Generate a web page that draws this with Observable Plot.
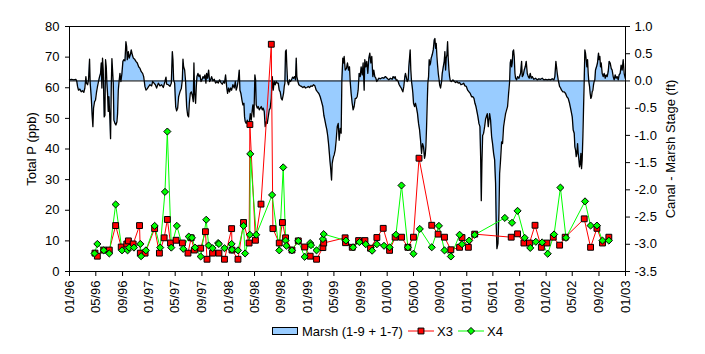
<!DOCTYPE html>
<html><head><meta charset="utf-8">
<script src="https://cdn.jsdelivr.net/npm/d3@7"></script>
<script src="https://cdn.jsdelivr.net/npm/@observablehq/plot@0.6"></script>
<style>
body{margin:0;background:#fff;font-family:"Liberation Sans",Arial,sans-serif;}
#wrap{position:relative;width:705px;height:354px;}
#legend{position:absolute;left:0;top:318px;}
</style></head>
<body><div id="wrap"><div id="chart"></div><svg id="legend" width="705" height="36"></svg></div>
<script>
// ---------- data (decimal year, value) ----------
const xTickLabels = ["01/96","05/96","09/96","01/97","05/97","09/97","01/98","05/98","09/98","01/99","05/99","09/99","01/00","05/00","09/00","01/01","05/01","09/01","01/02","05/02","09/02","01/03"];
const yTicks = [0,10,20,30,40,50,60,70,80];
const stageTicks = [1.0,0.5,0.0,-0.5,-1.0,-1.5,-2.0,-2.5,-3.0,-3.5];
const seriesNames = ["Marsh (1-9 + 1-7)","X3","X4"];

// Canal - Marsh stage (ft)
const stage = [
[1996.000,0.02],[1996.025,0.03],[1996.055,0.02],[1996.080,0.03],[1996.092,-0.01],[1996.101,-0.10],[1996.113,-0.17],[1996.130,-0.15],[1996.147,-0.20],[1996.164,-0.18],[1996.180,-0.21],[1996.193,-0.13],[1996.206,0.08],[1996.214,-0.04],[1996.227,-0.07],[1996.239,0.02],[1996.252,0.40],[1996.260,-0.04],[1996.273,-0.29],[1996.285,-0.64],[1996.294,-0.84],[1996.302,-0.50],[1996.315,-0.38],[1996.327,-0.35],[1996.340,-0.20],[1996.352,-0.10],[1996.365,-0.01],[1996.378,0.08],[1996.390,0.14],[1996.399,0.33],[1996.407,-0.13],[1996.415,0.42],[1996.424,0.20],[1996.436,-0.66],[1996.445,-0.63],[1996.453,0.39],[1996.462,0.26],[1996.470,-0.04],[1996.478,-0.23],[1996.487,-0.56],[1996.495,-0.29],[1996.508,-0.72],[1996.516,-1.06],[1996.525,-0.10],[1996.533,0.41],[1996.541,0.20],[1996.550,-0.04],[1996.558,-0.72],[1996.571,-0.78],[1996.583,-0.81],[1996.596,-0.75],[1996.604,-0.60],[1996.613,-0.17],[1996.621,-0.04],[1996.634,0.14],[1996.646,-0.01],[1996.659,0.14],[1996.671,0.36],[1996.684,0.39],[1996.697,0.37],[1996.709,0.72],[1996.718,0.63],[1996.726,0.39],[1996.739,0.54],[1996.751,0.42],[1996.764,0.48],[1996.776,0.57],[1996.789,0.48],[1996.802,0.42],[1996.818,0.40],[1996.835,0.36],[1996.852,0.33],[1996.869,0.26],[1996.886,0.23],[1996.902,0.17],[1996.919,0.14],[1996.932,0.08],[1996.940,-0.01],[1996.948,-0.10],[1996.961,-0.17],[1996.978,-0.14],[1996.995,-0.10],[1997.011,-0.07],[1997.032,-0.09],[1997.045,-0.01],[1997.062,-0.04],[1997.079,-0.07],[1997.095,-0.13],[1997.116,-0.04],[1997.137,-0.09],[1997.158,-0.07],[1997.179,-0.12],[1997.200,-0.01],[1997.213,0.07],[1997.221,-0.06],[1997.242,-0.07],[1997.263,-0.10],[1997.280,-0.04],[1997.293,0.54],[1997.301,0.39],[1997.309,0.02],[1997.322,-0.04],[1997.335,-0.47],[1997.347,-0.55],[1997.360,-0.50],[1997.372,-0.29],[1997.389,-0.20],[1997.406,-0.14],[1997.419,0.02],[1997.427,0.40],[1997.435,0.26],[1997.448,0.20],[1997.460,-0.01],[1997.473,-0.47],[1997.486,-0.63],[1997.498,-0.66],[1997.507,-0.41],[1997.519,-0.23],[1997.532,-0.20],[1997.544,-0.26],[1997.557,-0.38],[1997.565,0.33],[1997.574,-0.23],[1997.586,-0.41],[1997.595,-0.10],[1997.603,0.08],[1997.616,0.14],[1997.628,0.08],[1997.641,0.11],[1997.654,-0.01],[1997.666,0.02],[1997.679,0.08],[1997.691,0.05],[1997.704,0.11],[1997.716,-0.04],[1997.725,0.14],[1997.737,0.05],[1997.750,0.20],[1997.763,-0.01],[1997.775,0.02],[1997.788,0.08],
[1997.805,0.00],[1997.821,0.03],[1997.838,-0.04],[1997.855,-0.01],[1997.872,-0.04],[1997.888,0.02],[1997.905,-0.03],[1997.922,-0.06],[1997.939,-0.01],[1997.951,-0.04],[1997.964,0.11],[1997.977,-0.10],[1997.989,-0.23],[1998.002,-0.13],[1998.014,-0.20],[1998.027,-0.13],[1998.040,-0.17],[1998.056,-0.07],[1998.073,-0.13],[1998.086,-0.01],[1998.098,-0.17],[1998.111,-0.10],[1998.124,0.02],[1998.136,0.20],[1998.145,-0.17],[1998.157,-0.23],[1998.170,-0.35],[1998.182,-0.44],[1998.195,-0.41],[1998.203,-0.66],[1998.212,-0.75],[1998.224,-0.78],[1998.237,-0.72],[1998.249,-0.81],[1998.262,-0.78],[1998.275,-0.60],[1998.287,-0.72],[1998.300,-0.53],[1998.308,-0.44],[1998.321,-0.66],[1998.333,0.11],[1998.342,0.02],[1998.350,-0.44],[1998.363,-0.50],[1998.375,-0.47],[1998.388,-0.53],[1998.401,-0.50],[1998.413,-0.47],[1998.426,-0.53],[1998.438,-0.50],[1998.451,-0.56],[1998.463,-0.84],[1998.476,-0.75],[1998.489,-0.78],[1998.501,-0.66],[1998.514,-0.53],[1998.526,-0.50],[1998.539,-0.32],[1998.552,0.08],[1998.564,-0.17],[1998.577,-0.01],[1998.589,-0.07],[1998.602,-0.01],[1998.615,-0.04],[1998.627,-0.04],[1998.640,-0.17],[1998.652,-0.20],[1998.665,-0.32],[1998.677,-0.35],[1998.686,-0.29],[1998.694,-0.23],[1998.703,-0.10],[1998.711,-0.04],[1998.719,0.54],[1998.728,0.57],[1998.736,0.26],[1998.745,-0.01],[1998.757,-0.07],[1998.770,0.02],[1998.782,-0.01],[1998.795,0.02],[1998.808,0.07],[1998.820,0.05],[1998.833,0.08],[1998.845,0.02],[1998.854,0.42],[1998.862,0.08],[1998.875,-0.01],[1998.887,-0.07],[1998.904,-0.09],[1998.921,-0.10],[1998.938,-0.12],[1998.954,-0.10],[1998.971,-0.13],[1998.988,-0.12],[1999.005,-0.10],[1999.022,-0.12],[1999.038,-0.09],[1999.055,-0.10],[1999.072,-0.07],[1999.089,-0.09],[1999.106,-0.17],[1999.122,-0.20],[1999.139,-0.23],[1999.156,-0.29],[1999.173,-0.38],[1999.189,-0.47],[1999.202,-0.63],[1999.215,-0.72],[1999.227,-0.81],[1999.240,-0.90],[1999.252,-1.02],[1999.265,-1.21],[1999.278,-1.45],[1999.290,-1.64],[1999.299,-1.82],[1999.307,-1.52],[1999.315,-1.45],[1999.324,-1.39],[1999.332,-1.36],[1999.345,-1.27],[1999.357,-1.09],[1999.370,-0.84],[1999.383,-0.78],[1999.395,-1.09],[1999.408,-0.87],[1999.420,-0.96],[1999.429,0.02],[1999.441,0.42],[1999.450,0.33],[1999.458,0.45],[1999.471,0.20],
[1999.487,0.23],[1999.500,0.33],[1999.513,0.20],[1999.525,0.26],[1999.534,-0.01],[1999.546,-0.23],[1999.559,-0.41],[1999.571,-0.53],[1999.584,-0.47],[1999.597,-0.32],[1999.609,-0.32],[1999.622,-0.29],[1999.634,-0.17],[1999.647,0.14],[1999.660,0.08],[1999.672,0.26],[1999.685,0.11],[1999.697,0.33],[1999.710,-0.17],[1999.718,0.39],[1999.731,0.26],[1999.743,0.36],[1999.756,0.14],[1999.769,0.42],[1999.781,0.51],[1999.794,0.33],[1999.806,0.45],[1999.819,0.08],[1999.831,0.20],[1999.844,0.08],[1999.857,0.05],[1999.869,-0.01],[1999.882,0.02],[1999.894,0.05],[1999.915,0.04],[1999.936,0.06],[1999.957,0.05],[1999.978,0.08],[1999.999,0.05],[2000.020,0.02],[2000.041,0.05],[2000.062,0.03],[2000.075,0.08],[2000.088,0.05],[2000.100,0.08],[2000.113,0.01],[2000.125,0.02],[2000.138,-0.01],[2000.151,-0.07],[2000.163,-0.10],[2000.176,-0.13],[2000.188,-0.17],[2000.197,-0.20],[2000.209,-0.10],[2000.222,0.08],[2000.230,0.14],[2000.239,0.08],[2000.251,-0.01],[2000.264,0.02],[2000.272,0.26],[2000.281,0.42],[2000.289,0.57],[2000.297,0.20],[2000.306,-0.01],[2000.314,-0.10],[2000.323,-0.23],[2000.331,-0.41],[2000.344,-0.47],[2000.356,-0.41],[2000.369,-0.50],[2000.381,-0.60],[2000.394,-0.78],[2000.407,-0.90],[2000.419,-1.09],[2000.432,-1.33],[2000.444,-1.15],[2000.457,-1.21],[2000.469,-1.42],[2000.478,-1.36],[2000.486,-1.21],[2000.495,-0.84],[2000.503,-0.41],[2000.511,-0.04],[2000.520,0.08],[2000.528,0.39],[2000.537,0.29],[2000.545,0.33],[2000.553,0.42],[2000.566,0.48],[2000.579,0.57],[2000.591,0.75],[2000.600,0.78],[2000.608,0.60],[2000.616,0.69],[2000.625,0.45],[2000.633,0.29],[2000.642,0.14],[2000.650,0.05],[2000.659,-0.07],[2000.671,-0.13],[2000.684,-0.01],[2000.692,0.14],[2000.705,0.26],[2000.717,0.36],[2000.725,0.54],[2000.734,0.20],[2000.742,0.42],[2000.751,0.48],[2000.759,0.72],[2000.767,0.42],[2000.776,0.20],[2000.784,0.08],[2000.793,0.00],[2000.809,-0.01],[2000.826,0.02],[2000.843,-0.01],[2000.860,-0.03],[2000.876,-0.01],[2000.893,-0.04],[2000.910,-0.03],[2000.927,-0.07],[2000.944,-0.06],[2000.960,-0.04],[2000.977,-0.09],[2000.994,-0.10],[2001.011,-0.17],[2001.028,-0.20],[2001.044,-0.23],[2001.061,-0.29],[2001.078,-0.29],[2001.091,-0.32],[2001.103,-0.41],[2001.116,-0.47],[2001.128,-0.56],[2001.141,-0.66],[2001.153,-0.78],[2001.166,-0.84],[2001.175,-1.40],[2001.183,-2.20],[2001.191,-1.50],[2001.200,-1.00],[2001.212,-0.96],[2001.225,-0.84],[2001.237,-0.70],
[2001.258,-0.60],[2001.271,-0.84],[2001.288,-0.60],[2001.300,-0.72],[2001.313,-1.02],[2001.325,-1.15],[2001.338,-1.33],[2001.351,-1.45],[2001.363,-1.88],[2001.372,-2.68],[2001.380,-3.08],[2001.393,-2.99],[2001.405,-2.44],[2001.414,-1.70],[2001.426,-1.45],[2001.439,-1.12],[2001.451,-1.15],[2001.464,-0.84],[2001.476,-0.72],[2001.489,-0.60],[2001.502,-0.53],[2001.514,-0.47],[2001.527,-0.23],[2001.540,-0.01],[2001.548,0.33],[2001.556,0.39],[2001.565,0.26],[2001.573,0.33],[2001.581,0.54],[2001.590,0.57],[2001.598,0.45],[2001.607,0.14],[2001.615,0.05],[2001.628,0.02],[2001.640,0.08],[2001.657,0.05],[2001.678,0.14],[2001.691,0.36],[2001.699,0.08],[2001.712,0.11],[2001.724,0.20],[2001.737,0.26],[2001.749,0.36],[2001.762,0.14],[2001.775,0.08],[2001.787,0.05],[2001.800,0.14],[2001.812,0.05],[2001.825,0.08],[2001.846,0.03],[2001.867,0.05],[2001.888,0.02],[2001.909,0.04],[2001.930,0.03],[2001.951,0.05],[2001.972,0.02],[2001.993,0.03],[2002.014,0.02],[2002.035,0.03],[2002.056,0.02],[2002.077,0.04],[2002.098,0.02],[2002.110,0.08],[2002.123,0.36],[2002.131,0.26],[2002.140,0.14],[2002.152,0.02],[2002.161,-0.04],[2002.169,-0.10],[2002.182,-0.13],[2002.194,-0.17],[2002.211,-0.20],[2002.228,-0.20],[2002.245,-0.23],[2002.261,-0.29],[2002.278,-0.32],[2002.295,-0.41],[2002.312,-0.53],[2002.329,-0.66],[2002.341,-0.90],[2002.354,-0.96],[2002.362,-1.21],[2002.371,-1.27],[2002.379,-1.39],[2002.387,-1.33],[2002.396,-1.15],[2002.404,-1.33],[2002.413,-1.45],[2002.421,-1.58],[2002.429,-1.52],[2002.438,-1.33],[2002.446,-1.61],[2002.454,-1.45],[2002.463,-1.02],[2002.471,-0.53],[2002.480,0.02],[2002.488,0.57],[2002.496,0.51],[2002.505,0.39],[2002.513,0.26],[2002.522,0.39],[2002.530,0.14],[2002.538,-0.01],[2002.547,-0.10],[2002.555,-0.23],[2002.563,-0.32],[2002.572,-0.29],[2002.580,-0.20],[2002.589,-0.17],[2002.597,-0.07],[2002.605,-0.01],[2002.614,0.02],[2002.622,0.20],[2002.635,0.26],[2002.647,0.33],[2002.660,0.51],[2002.668,0.39],[2002.677,0.45],[2002.685,0.26],[2002.694,0.33],[2002.706,0.14],[2002.719,0.08],[2002.731,0.14],[2002.744,0.05],[2002.756,0.11],[2002.769,0.08],[2002.782,0.17],[2002.794,0.36],[2002.807,0.33],[2002.820,0.23],[2002.832,0.20],[2002.845,0.08],[2002.857,0.02],[2002.870,0.11],[2002.882,0.05],[2002.895,0.08],[2002.908,0.02],[2002.920,0.11],[2002.933,0.14],[2002.945,0.29],[2002.958,0.20],[2002.971,0.39],[2002.983,0.14],[2002.996,0.05]
];

// Total P (ppb) at X3
const x3 = [
[1996.32,6],[1996.35,5],[1996.43,7],[1996.50,7],[1996.58,15],[1996.65,8],[1996.72,9],[1996.74,10],[1996.80,9],[1996.88,15],[1996.89,6],[1996.95,6],[1997.07,14],[1997.13,6],[1997.19,11],[1997.23,17],[1997.27,9.3],[1997.34,10.2],[1997.42,9.3],[1997.49,6],[1997.53,11],[1997.57,7],[1997.65,7.6],[1997.71,13],[1997.73,4],[1997.80,6],[1997.88,6],[1997.95,4],[1998.04,14],[1998.045,7],[1998.12,4],[1998.19,16],[1998.26,9.3],[1998.27,48],[1998.34,10.2],[1998.41,22],[1998.54,74.2],[1998.56,14],[1998.64,9.3],[1998.68,16],[1998.72,11],[1998.80,7],[1998.88,10],[1998.96,8],[1999.03,5],[1999.11,4],[1999.19,7.8],[1999.20,9.3],[1999.47,11],[1999.475,9.4],[1999.56,7.9],[1999.64,10.1],[1999.72,10.1],[1999.79,7.6],[1999.87,11.1],[1999.95,14.1],[2000.03,6.9],[2000.10,11.2],[2000.18,11.2],[2000.26,7.9],[2000.33,11.2],[2000.40,37],[2000.56,15.1],[2000.64,12.2],[2000.72,11.2],[2000.80,7.1],[2000.91,7.9],[2000.94,11.1],[2001.02,7.9],[2001.10,12.2],[2001.56,11.2],[2001.64,12.3],[2001.72,9.3],[2001.79,9.3],[2001.86,15.1],[2001.94,7.9],[2002.01,9.3],[2002.09,11.2],[2002.17,8.6],[2002.24,11.2],[2002.48,17.2],[2002.56,7.9],[2002.64,14.1],[2002.71,9.3],[2002.79,11.2]
];

// Total P (ppb) at X4
const x4 = [
[1996.315,5.9],[1996.35,9],[1996.43,6.9],[1996.50,5.9],[1996.58,21.9],[1996.66,6.9],[1996.73,6.9],[1996.75,7.8],[1996.81,7.8],[1996.89,9],[1996.90,5],[1996.96,6.9],[1997.07,14.9],[1997.14,7.8],[1997.20,26],[1997.23,45.7],[1997.28,7.8],[1997.35,14.9],[1997.43,7.4],[1997.50,11.4],[1997.54,11],[1997.58,7.8],[1997.65,4.9],[1997.72,16.9],[1997.75,8.5],[1997.80,7.6],[1997.87,9.3],[1997.88,9],[1997.95,7.6],[1998.04,9],[1998.045,7.1],[1998.12,6.9],[1998.19,14.9],[1998.21,5.9],[1998.27,12],[1998.275,38.4],[1998.35,12],[1998.55,25],[1998.64,6.9],[1998.69,34],[1998.72,10.1],[1998.73,8.4],[1998.80,6.9],[1998.88,10],[1998.96,4.8],[1999.03,9.3],[1999.04,8.6],[1999.11,6.9],[1999.19,10.6],[1999.20,12.2],[1999.48,10.1],[1999.57,7.9],[1999.65,9.6],[1999.73,8.9],[1999.81,6.8],[1999.87,8.9],[1999.96,8.4],[2000.03,7.9],[2000.11,12],[2000.18,28.1],[2000.26,7.9],[2000.33,5.8],[2000.41,13.9],[2000.56,7.9],[2000.65,14.9],[2000.72,6.9],[2000.80,4.9],[2000.91,12],[2000.94,8.9],[2001.03,10.1],[2001.10,12],[2001.48,17.5],[2001.57,15.9],[2001.64,19.8],[2001.73,11],[2001.80,7.7],[2001.87,9.7],[2001.95,9.5],[2002.02,5.8],[2002.10,12.1],[2002.18,27.4],[2002.25,11],[2002.49,22.9],[2002.56,15],[2002.64,15],[2002.71,10.1],[2002.79,10.1]
];

// ---------- helpers ----------
function ydate(y){const yr=Math.floor(y);const a=Date.UTC(yr,0,1),b=Date.UTC(yr+1,0,1);return new Date(a+(y-yr)*(b-a));}
const yMax = d3.max(yTicks), sMin = d3.min(stageTicks), sMax = d3.max(stageTicks);
const toY = s => (s - sMin)/(sMax - sMin)*yMax;          // stage -> left-axis units
const fromY = v => v/yMax*(sMax - sMin) + sMin;
const parseTick = d3.utcParse("%m/%y");
const xTicks = xTickLabels.map(parseTick);
const fmtX = d3.utcFormat("%m/%y");

const stageData = stage.map(([t,v]) => ({date: ydate(t), v}));
const x3Data = x3.map(([t,v]) => ({date: ydate(t), v}));
const x4Data = x4.map(([t,v]) => ({date: ydate(t), v}));

const FONT = '"Liberation Sans", Arial, sans-serif';
const chart = Plot.plot({
  width: 705, height: 318,
  marginTop: 26, marginRight: 80, marginBottom: 47, marginLeft: 69,
  style: {fontFamily: FONT, fontSize: "13px", color: "#000", background: "#fff", overflow: "visible"},
  x: {type: "utc", domain: [xTicks[0], xTicks[xTicks.length-1]]},
  y: {domain: [0, yMax]},
  marks: [
    Plot.areaY(stageData, {x: "date", y1: toY(0), y2: d => toY(d.v), fill: "#99ccff", curve: "linear"}),
    Plot.line(stageData, {x: "date", y: d => toY(d.v), stroke: "#000", strokeWidth: 1.3}),
    Plot.ruleY([toY(0)], {stroke: "#000", strokeWidth: 1}),
    Plot.line(x3Data, {x: "date", y: "v", stroke: "#ff0000", strokeWidth: 1}),
    Plot.line(x4Data, {x: "date", y: "v", stroke: "#00ff00", strokeWidth: 1}),
    Plot.dot(x3Data, {x: "date", y: "v", symbol: "square", r: 3.3, fill: "#ff0000", stroke: "#000", strokeWidth: 1}),
    Plot.dot(x4Data, {x: "date", y: "v", symbol: "diamond2", r: 3.2, fill: "#00ff00", stroke: "#000", strokeWidth: 1}),
    Plot.frame({stroke: "#000", strokeWidth: 1}),
    Plot.axisY({ticks: yTicks, tickSize: 4, tickPadding: 6, label: null, tickFormat: d => String(d)}),
    Plot.axisY({anchor: "right", ticks: stageTicks.map(toY), tickSize: 4, tickPadding: 5, label: null,
      tickFormat: d => (Math.round(fromY(d)*10)/10 + 0).toFixed(1)}),
    Plot.axisX({ticks: xTicks, tickFormat: d => fmtX(d), tickRotate: -90, tickSize: 5, tickPadding: 4, label: null}),
    Plot.text(["Total P (ppb)"], {frameAnchor: "left", dx: -38, rotate: -90, textAnchor: "middle", lineAnchor: "middle", fontSize: 13}),
    Plot.text(["Canal - Marsh Stage (ft)"], {frameAnchor: "right", dx: 45, rotate: -90, textAnchor: "middle", lineAnchor: "middle", fontSize: 13})
  ]
});
document.getElementById("chart").appendChild(chart);

// ---------- legend ----------
const lg = d3.select("#legend").style("font-family", FONT).style("font-size", "13px");
const cy = 13;
lg.append("rect").attr("x", 272.5).attr("y", cy-3.5).attr("width", 25).attr("height", 7).attr("fill", "#99ccff").attr("stroke", "#000");
lg.append("text").attr("x", 302).attr("y", cy).attr("dy", "0.36em").text(seriesNames[0]);
lg.append("line").attr("x1", 408).attr("x2", 434).attr("y1", cy).attr("y2", cy).attr("stroke", "#ff0000");
lg.append("path").attr("transform", `translate(421,${cy})`).attr("d", d3.symbol(d3.symbolSquare, Math.PI*3.3*3.3)()).attr("fill", "#ff0000").attr("stroke", "#000");
lg.append("text").attr("x", 437).attr("y", cy).attr("dy", "0.36em").text(seriesNames[1]);
lg.append("line").attr("x1", 458).attr("x2", 484).attr("y1", cy).attr("y2", cy).attr("stroke", "#00ff00");
lg.append("path").attr("transform", `translate(471,${cy})`).attr("d", d3.symbol(d3.symbolDiamond2, Math.PI*3.2*3.2)()).attr("fill", "#00ff00").attr("stroke", "#000");
lg.append("text").attr("x", 487).attr("y", cy).attr("dy", "0.36em").text(seriesNames[2]);
</script>
</body></html>
